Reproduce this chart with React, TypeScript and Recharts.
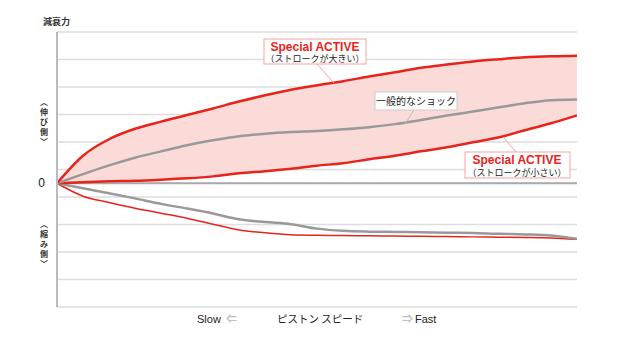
import React from 'react';
import {
  ComposedChart, Area, Line, XAxis, YAxis, CartesianGrid, ReferenceLine,
} from 'recharts';

// ピストンスピード (任意単位)
const speed = [0, 1, 2, 3, 4, 5, 6, 7, 8, 9, 10, 11, 12, 13, 14, 15, 16, 17, 18, 19, 20];

// 伸び側
const activeLargeExt = [0, 1.0, 1.6, 1.98, 2.24, 2.48, 2.72, 2.97, 3.2, 3.4, 3.56, 3.71, 3.88, 4.04, 4.2, 4.32, 4.43, 4.51, 4.58, 4.62, 4.64];
const activeSmallExt = [0, 0.04, 0.07, 0.09, 0.13, 0.18, 0.25, 0.36, 0.44, 0.53, 0.64, 0.73, 0.87, 1.0, 1.16, 1.31, 1.49, 1.67, 1.93, 2.18, 2.47];
const normalExt = [0, 0.33, 0.65, 0.93, 1.16, 1.38, 1.56, 1.71, 1.8, 1.86, 1.9, 1.96, 2.04, 2.15, 2.3, 2.46, 2.61, 2.76, 2.91, 3.02, 3.05];

// 縮み側
const activeComp = [0, -0.47, -0.7, -0.91, -1.09, -1.27, -1.49, -1.7, -1.8, -1.87, -1.89, -1.9, -1.91, -1.92, -1.93, -1.94, -1.95, -1.96, -1.97, -1.99, -2.04];
const normalComp = [0, -0.18, -0.36, -0.55, -0.75, -0.92, -1.1, -1.31, -1.41, -1.49, -1.65, -1.73, -1.76, -1.77, -1.78, -1.8, -1.81, -1.84, -1.86, -1.9, -2.02];

const yTicks = [-4.5, -3.5, -2.5, -1.5, -0.5, 0, 0.5, 1.5, 2.5, 3.5, 4.5, 5.5];

const RED = '#e8231c';
const GRAY = '#999999';
const JP = '"Noto Sans CJK JP", sans-serif';
const LATIN = '"Liberation Sans", Arial, sans-serif';

const data = speed.map((x, i) => ({
  x,
  band: [activeSmallExt[i], activeLargeExt[i]],
  large: activeLargeExt[i],
  small: activeSmallExt[i],
  normal: normalExt[i],
  comp: activeComp[i],
  normalC: normalComp[i],
}));

const ZeroTick = (props: any) => {
  const { x, y, payload } = props;
  if (payload.value !== 0) return null;
  return (
    <text x={x - 4} y={y + 4} textAnchor="end" fontSize={12} fontFamily={LATIN} fill="#222">0</text>
  );
};

const VerticalLabel = ({ x, y, chars }: { x: number; y: number; chars: string[] }) => (
  <g>
    {chars.map((c, i) => (
      <text key={i} x={x} y={y + i * 10} textAnchor="middle" fontSize={8} fontWeight="bold" fontFamily={JP} fill="#333">
        {c}
      </text>
    ))}
  </g>
);

export default function App() {
  return (
    <div style={{ position: 'absolute', left: 0, top: 0, width: 636, height: 353, background: '#fff' }}>
      <ComposedChart width={636} height={353} data={data} margin={{ top: 32, right: 59, bottom: 46, left: 0 }}>
        <CartesianGrid vertical={false} stroke="#dddddd" strokeWidth={1.5} />
        <XAxis type="number" dataKey="x" domain={[0, 20]} hide />
        <YAxis
          type="number"
          domain={[-4.5, 5.5]}
          ticks={yTicks}
          width={57}
          tickLine={false}
          axisLine={{ stroke: '#bbbbbb', strokeWidth: 2 }}
          tick={<ZeroTick />}
          interval={0}
        />
        <ReferenceLine y={0} stroke="#aaaaaa" strokeWidth={2} />
        <Area type="monotone" dataKey="band" stroke="none" fill="#fadbd8" fillOpacity={1} isAnimationActive={false} />
        <Line type="monotone" dataKey="comp" stroke={RED} strokeWidth={1.5} dot={false} isAnimationActive={false} />
        <Line type="monotone" dataKey="normalC" stroke={GRAY} strokeWidth={2.5} dot={false} isAnimationActive={false} />
        <Line type="monotone" dataKey="small" stroke={RED} strokeWidth={2.5} dot={false} isAnimationActive={false} />
        <Line type="monotone" dataKey="normal" stroke={GRAY} strokeWidth={2.5} dot={false} isAnimationActive={false} />
        <Line type="monotone" dataKey="large" stroke={RED} strokeWidth={2.5} dot={false} isAnimationActive={false} />
      </ComposedChart>

      <svg width={636} height={353} style={{ position: 'absolute', left: 0, top: 0, pointerEvents: 'none' }}>
        {/* 軸ラベル */}
        <text x={43} y={25} fontSize={9} fontWeight="bold" fontFamily={JP} fill="#333">減衰力</text>
        <VerticalLabel x={44} y={105} chars={['︿', '伸', 'び', '側', '﹀']} />
        <VerticalLabel x={44} y={227} chars={['︿', '縮', 'み', '側', '﹀']} />

        <text x={197} y={323} fontSize={11} fontFamily={LATIN} fill="#222">Slow</text>
        <text x={226} y={323} fontSize={11} fontWeight="bold" fontFamily={JP} fill="#c0c0c0">⇐</text>
        <text x={277} y={323} fontSize={10.5} fontFamily={JP} fill="#222">ピストン スピード</text>
        <text x={402} y={323} fontSize={11} fontWeight="bold" fontFamily={JP} fill="#c0c0c0">⇒</text>
        <text x={415} y={323} fontSize={11} fontFamily={LATIN} fill="#222">Fast</text>

        {/* Special ACTIVE (大) */}
        <line x1={317} y1={64} x2={334} y2={83} stroke="#f4a5a0" strokeWidth={1} />
        <rect x={264} y={39} width={102} height={25} fill="#fff" stroke="#f4a5a0" strokeWidth={1} />
        <text x={315} y={50.5} textAnchor="middle" fontSize={12} fontWeight="bold" fontFamily={LATIN} fill={RED}>Special ACTIVE</text>
        <text x={315} y={62} textAnchor="middle" fontSize={9} fontFamily={JP} fill="#222">（ストロークが大きい）</text>

        {/* 一般的なショック */}
        <line x1={414} y1={110} x2={405} y2={124} stroke="#bbbbbb" strokeWidth={1} />
        <rect x={375} y={92} width={82} height={18} fill="#fff" stroke="#cccccc" strokeWidth={1} />
        <text x={416} y={105} textAnchor="middle" fontSize={10} fontFamily={JP} fill="#222">一般的なショック</text>

        {/* Special ACTIVE (小) */}
        <line x1={516} y1={152} x2={503} y2={137} stroke="#f4a5a0" strokeWidth={1} />
        <rect x={465} y={152} width={105} height={26} fill="#fff" stroke="#f4a5a0" strokeWidth={1} />
        <text x={517} y={164} textAnchor="middle" fontSize={12} fontWeight="bold" fontFamily={LATIN} fill={RED}>Special ACTIVE</text>
        <text x={517} y={176} textAnchor="middle" fontSize={9} fontFamily={JP} fill="#222">（ストロークが小さい）</text>
      </svg>
    </div>
  );
}
